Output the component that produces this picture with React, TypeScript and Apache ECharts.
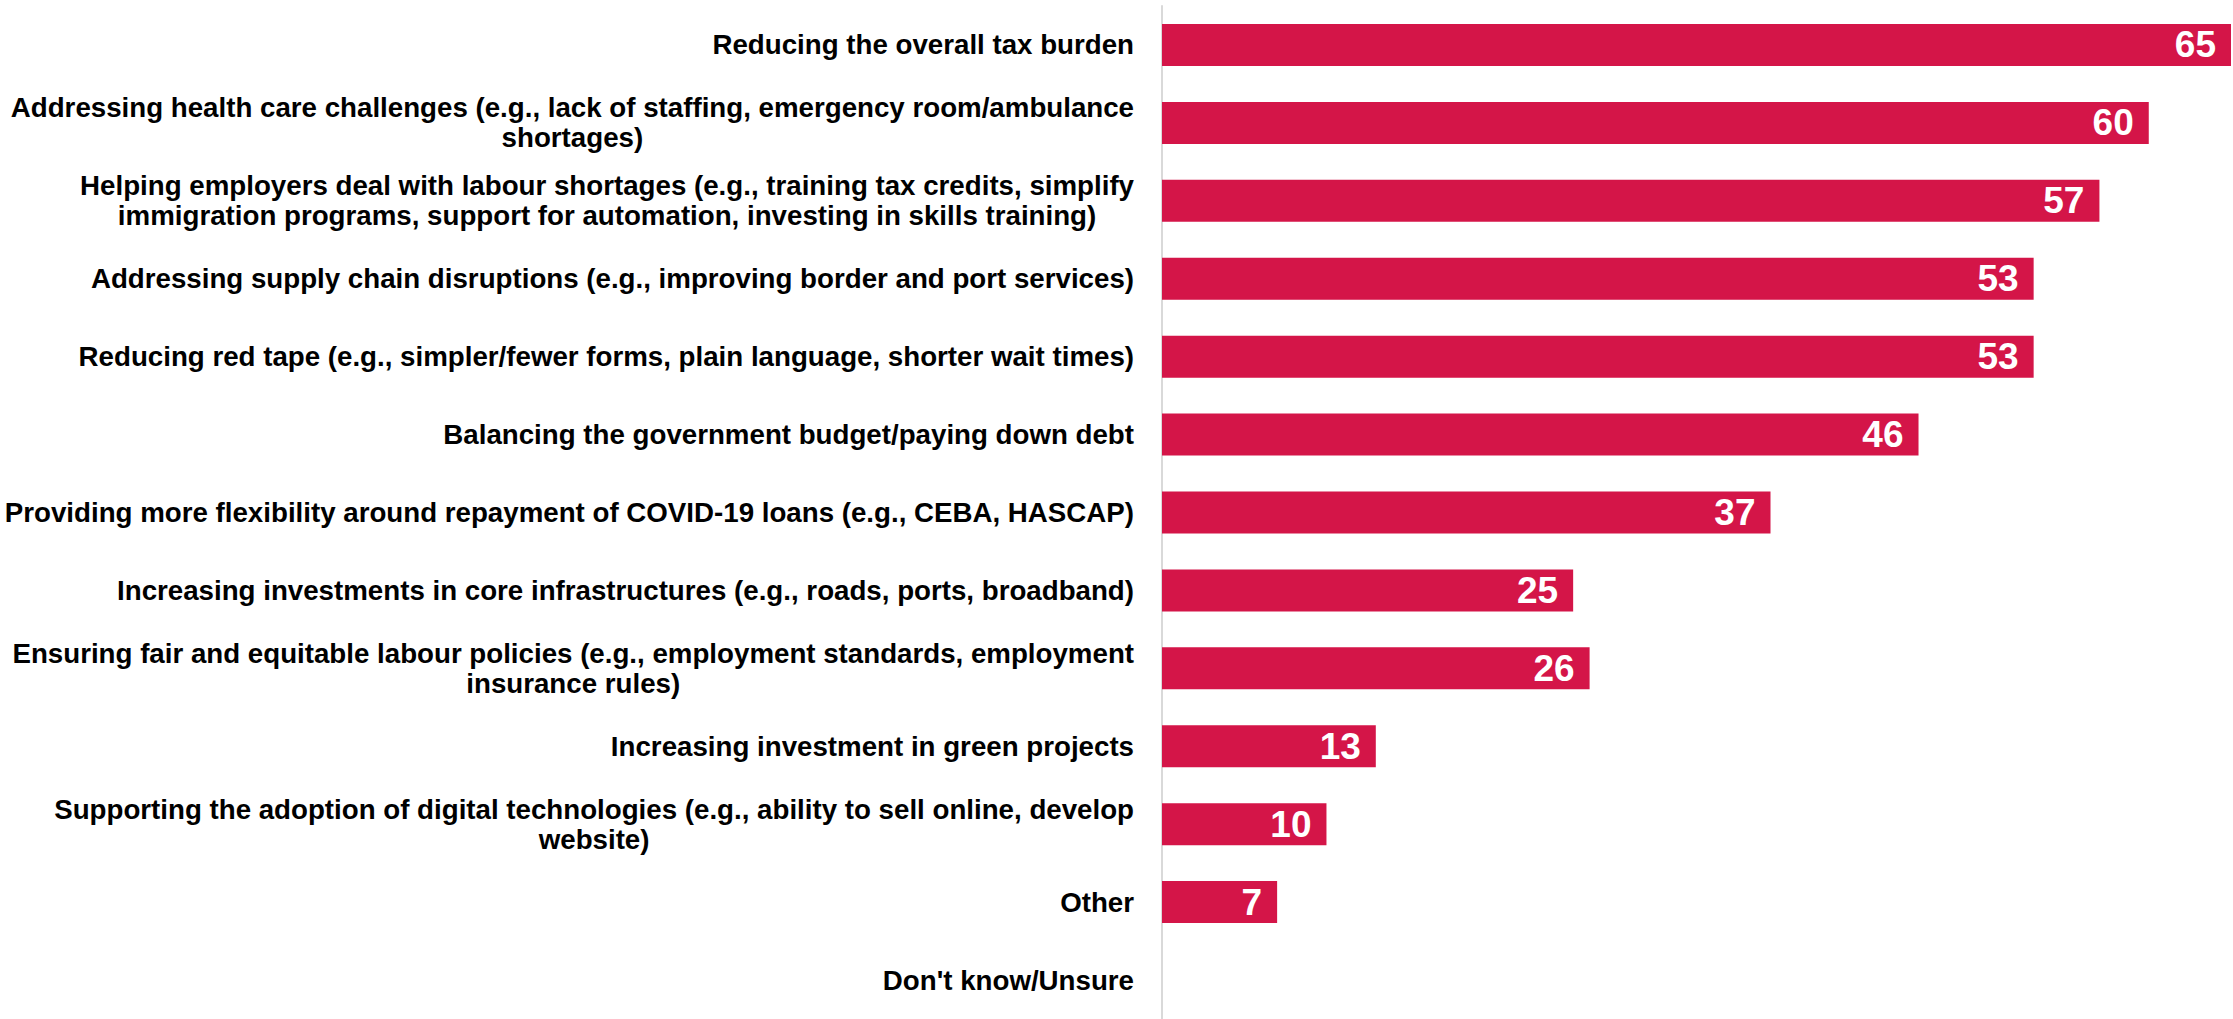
import React, { useEffect, useRef } from "react";
import * as echarts from "echarts";

const categories: string[] = [
  "Reducing the overall tax burden",
  "Addressing health care challenges (e.g., lack of staffing, emergency room/ambulance\nshortages)",
  "Helping employers deal with labour shortages (e.g., training tax credits, simplify\nimmigration programs, support for automation, investing in skills training)",
  "Addressing supply chain disruptions (e.g., improving border and port services)",
  "Reducing red tape (e.g., simpler/fewer forms, plain language, shorter wait times)",
  "Balancing the government budget/paying down debt",
  "Providing more flexibility around repayment of COVID-19 loans (e.g., CEBA, HASCAP)",
  "Increasing investments in core infrastructures (e.g., roads, ports, broadband)",
  "Ensuring fair and equitable labour policies (e.g., employment standards, employment\ninsurance rules)",
  "Increasing investment in green projects",
  "Supporting the adoption of digital technologies (e.g., ability to sell online, develop\nwebsite)",
  "Other",
  "Don't know/Unsure",
];

const values: number[] = [65, 60, 57, 53, 53, 46, 37, 25, 26, 13, 10, 7, 0];

const BAR_COLOR = "#D41548";
const FONT = "'Liberation Sans', Arial, sans-serif";

export default function App() {
  const ref = useRef<HTMLDivElement | null>(null);

  useEffect(() => {
    if (!ref.current) return;
    const chart = echarts.init(ref.current, undefined, { renderer: "svg" });
    chart.setOption({
      animation: false,
      backgroundColor: "#ffffff",
      grid: { left: 1162, top: 6, width: 1069, height: 1020, containLabel: false },
      xAxis: {
        type: "value",
        min: 0,
        max: 65,
        show: false,
      },
      yAxis: {
        type: "category",
        inverse: true,
        data: categories,
        axisLine: { show: true, lineStyle: { color: "#d9d9d9", width: 2 } },
        axisTick: { show: false },
        splitLine: { show: false },
        axisLabel: {
          margin: 28,
          interval: 0,
          formatter: (v: string) =>
            v
              .split("\n")
              .map((l) => `{c|${l}}`)
              .join("\n"),
          rich: {
            c: {
              align: "center",
              fontSize: 27.7,
              fontWeight: "bold",
              fontFamily: FONT,
              color: "#000000",
              lineHeight: 30,
            },
          },
        },
      },
      series: [
        {
          type: "bar",
          data: values,
          barWidth: 42,
          itemStyle: { color: BAR_COLOR },
          label: {
            show: true,
            position: "insideRight",
            distance: 15,
            color: "#ffffff",
            fontSize: 37,
            fontWeight: "bold",
            fontFamily: FONT,
            formatter: (p: any) => (p.value > 0 ? String(p.value) : ""),
          },
        },
      ],
    });
    return () => chart.dispose();
  }, []);

  return (
    <div
      ref={ref}
      style={{ position: "fixed", left: 0, top: 0, width: 2233, height: 1019, background: "#fff" }}
    />
  );
}
